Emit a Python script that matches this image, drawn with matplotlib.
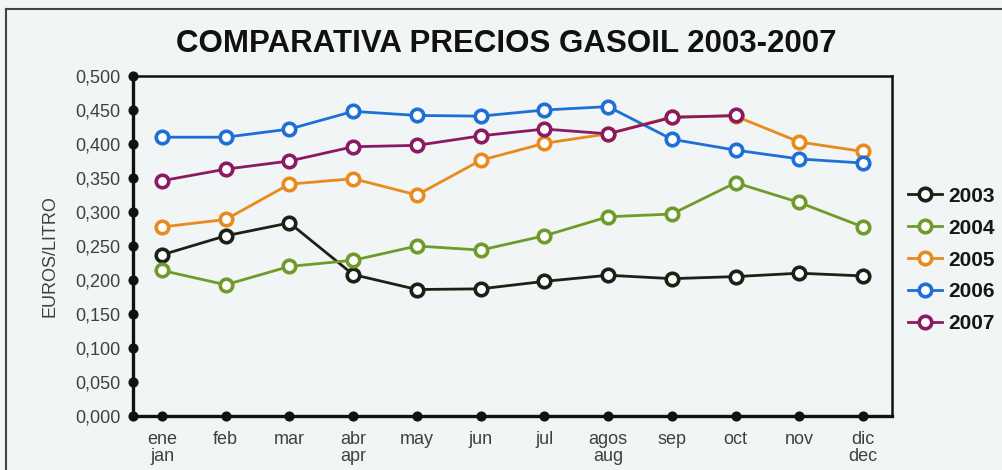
import matplotlib
matplotlib.use("Agg")
import matplotlib.pyplot as plt
from matplotlib.lines import Line2D
import numpy as np

months_es = ["ene", "feb", "mar", "abr", "may", "jun", "jul", "agos", "sep", "oct", "nov", "dic"]
months_en = ["jan", "", "", "apr", "", "", "", "aug", "", "", "", "dec"]

y2003 = [0.237, 0.265, 0.284, 0.208, 0.186, 0.187, 0.198, 0.207, 0.202, 0.205, 0.210, 0.206]
y2004 = [0.214, 0.193, 0.220, 0.229, 0.250, 0.244, 0.265, 0.293, 0.297, 0.343, 0.314, 0.278]
y2005 = [0.278, 0.289, 0.341, 0.349, 0.325, 0.376, 0.401, 0.415, 0.440, 0.441, 0.403, 0.389]
y2006 = [0.410, 0.410, 0.422, 0.448, 0.442, 0.441, 0.450, 0.455, 0.407, 0.391, 0.378, 0.372]
y2007 = [0.346, 0.363, 0.375, 0.396, 0.398, 0.412, 0.422, 0.415, 0.439, 0.442, None, None]

series_names = ["2003", "2004", "2005", "2006", "2007"]
series_vals = [y2003, y2004, y2005, y2006, y2007]
series_colors = ["#1c2116", "#6f9b2a", "#e88a1c", "#1e6fd6", "#8b1a63"]

yticks = [0.0, 0.05, 0.10, 0.15, 0.20, 0.25, 0.30, 0.35, 0.40, 0.45, 0.50]

title = "COMPARATIVA PRECIOS GASOIL 2003-2007"
ylabel = "EUROS/LITRO"

plt.rcParams['font.family'] = ['Liberation Sans', 'DejaVu Sans']
bg = "#f1f5f5"
txt = "#404040"

fig = plt.figure(figsize=(10.03, 4.70), dpi=100, facecolor=bg)
ax = fig.add_axes([133/1003, 54/470, (892-133)/1003, (416-76)/470])
ax.set_facecolor(bg)

x = np.arange(len(months_es))
handles = []
for name, vals, col in zip(series_names, series_vals, series_colors):
    yv = np.array([np.nan if v is None else v for v in vals], dtype=float)
    ax.plot(x, yv, '-', color=col, lw=2.0, marker='o', markersize=9,
            markerfacecolor='white', markeredgecolor=col, markeredgewidth=2.6,
            zorder=3, clip_on=False)
    handles.append(Line2D([], [], color=col, lw=2.0, marker='o', markersize=9,
                          markerfacecolor='white', markeredgecolor=col,
                          markeredgewidth=2.6))

ax.set_xlim(-0.455, 11.455)
ax.set_ylim(0, 0.5)
ax.set_yticks(yticks)
ax.set_yticklabels([f"{v:.3f}".replace(".", ",") for v in yticks],
                   fontsize=13, color=txt)
ax.set_xticks(x)
ax.set_xticklabels([a if not b else f"{a}\n{b}" for a, b in zip(months_es, months_en)],
                   fontsize=13, color=txt, linespacing=1.0, va='top')

for side in ["left", "bottom"]:
    ax.spines[side].set_linewidth(2.4)
for side in ["top", "right"]:
    ax.spines[side].set_linewidth(1.8)
for s in ax.spines.values():
    s.set_color("#111111")
    s.set_zorder(2)

ax.tick_params(axis='y', length=0, pad=9)
ax.tick_params(axis='x', length=0, pad=11)
for t in ax.yaxis.get_major_ticks() + ax.xaxis.get_major_ticks():
    t.tick1line.set_marker('o')
    t.tick1line.set_markersize(6.5)
    t.tick1line.set_color('#111111')
    t.tick1line.set_markerfacecolor('#111111')
    t.tick1line.set_markeredgecolor('#111111')
    t.tick1line.set_zorder(4)
    t.tick1line.set_clip_on(False)

ax.set_ylabel(ylabel, fontsize=13, color=txt)
ax.yaxis.set_label_coords(-74/759, 0.47)

fig.text(506/1003, 1 - 44/470, title, ha='center', va='center',
         fontsize=22.5, fontweight='bold', color='#111111')

leg = fig.legend(handles, series_names, loc='center left',
                 bbox_to_anchor=(898/1003, 1 - 260/470), frameon=False,
                 prop={'weight': 'bold', 'size': 15}, handlelength=1.6,
                 handletextpad=0.3, labelspacing=0.62, borderpad=0)
for t in leg.get_texts():
    t.set_color('#161616')

# outer frame of the original print
fig.add_artist(Line2D([6/1003, 6/1003], [0, 1 - 9/470], transform=fig.transFigure,
                      color='#444444', lw=1.5))
fig.add_artist(Line2D([6/1003, 1], [1 - 9/470, 1 - 9/470], transform=fig.transFigure,
                      color='#444444', lw=1.5))

fig.savefig("out.png", dpi=100, facecolor=bg)
